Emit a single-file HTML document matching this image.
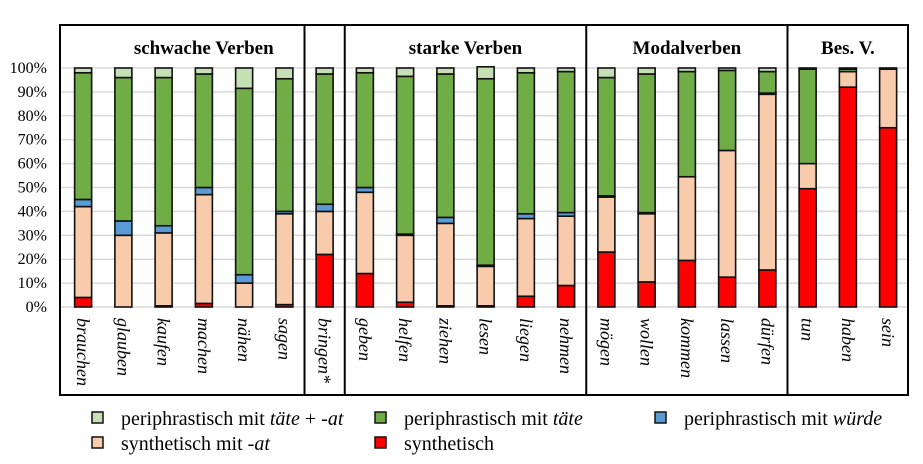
<!DOCTYPE html>
<html><head><meta charset="utf-8"><style>
body{margin:0;background:#fff;width:923px;height:464px;overflow:hidden}
svg{display:block;font-family:"Liberation Serif",serif}
</style></head><body>
<svg id="c" width="923" height="464"></svg>
<script>
const categories=["brauchen","glauben","kaufen","machen","nähen","sagen","bringen*","geben","helfen","ziehen","lesen","liegen","nehmen","mögen","wollen","kommen","lassen","dürfen","tun","haben","sein"];
const synth=[4,0,0.5,1.5,0,1,22,14,2,0.5,0.5,4.5,9,23,10.5,19.5,12.5,15.5,49.5,92,75];
const synthAt=[38,30,30.5,45.5,10,38,18,34,28,34.5,16.5,32.5,29,23,28.5,35,53,73.5,10.5,6.5,24.5];
const wuerde=[3,6,3,3,3.5,1,3,2,0.5,2.5,0.5,2,1.5,0.5,0.5,0,0,0.5,0,0,0];
const taete=[53,60,62,47.5,78,55.5,54.5,48,66,60,78,59,59,49.5,58,44,33.5,9,39.5,1,0];
const taeteAt=[2,4,4,2.5,8.5,4.5,2.5,2,3.5,2.5,5,2,1.5,4,2.5,1.5,1,1.5,0.5,0.5,0.5];
const yTicks=[0,10,20,30,40,50,60,70,80,90,100];
const groups=[{name:"schwache Verben",from:0,to:5},{name:"",from:6,to:6},{name:"starke Verben",from:7,to:12},{name:"Modalverben",from:13,to:17},{name:"Bes. V.",from:18,to:20}];
const series=[synth,synthAt,wuerde,taete,taeteAt];
const colors=["#ff0000","#f8cbad","#5b9bd5","#70ad47","#c5e0b4"];
const sNames=["synthetisch","synthetisch-at","wuerde","taete","taete-at"];
const svg=document.getElementById('c');const NS="http://www.w3.org/2000/svg";
function el(t,a,p){const e=document.createElementNS(NS,t);for(const k in a)e.setAttribute(k,a[k]);(p||svg).appendChild(e);return e;}
const y0=307,y1=68;
function y(v){return y0-(y0-y1)*v/100;}
const x0=63,step=40.25;
function xc(i){return x0+step*(i+0.5);}
const bw=17;
yTicks.forEach(t=>{const g=el('line',{x1:60,x2:908,y1:y(t),y2:y(t),stroke:'#d9d9d9','stroke-width':1.5});

const tx=el('text',{x:47,y:y(t)+5,'text-anchor':'end','font-size':16,fill:'#000'});tx.textContent=t+'%';
});
categories.forEach((c,i)=>{let acc=0;
series.forEach((s,k)=>{const v=s[i];if(v<=0){return;}
const r=el('rect',{x:xc(i)-bw/2,y:y(acc+v),width:bw,height:y(acc)-y(acc+v),fill:colors[k],stroke:'#111','stroke-width':1.6});
acc+=v;});
const t=el('text',{transform:`translate(${xc(i)-6},318) rotate(90)`,'font-size':18,'font-style':'italic',fill:'#000'});t.textContent=c;
});
const fr=el('rect',{x:60,y:25,width:848,height:370,fill:'none',stroke:'#000','stroke-width':2});

groups.forEach((g,gi)=>{if(gi>0){const xl=x0+step*g.from;const l=el('line',{x1:xl,x2:xl,y1:25,y2:395,stroke:'#000','stroke-width':2});
}
if(g.name){const cx=(x0+step*g.from+x0+step*(g.to+1))/2+(gi==0?20:0);const t=el('text',{x:cx,y:54,'text-anchor':'middle','font-size':19,'font-weight':'bold',fill:'#000'});t.textContent=g.name;
}});
const leg=[[92,418,4,'periphrastisch mit <tspan font-style="italic">täte</tspan> + -<tspan font-style="italic">at</tspan>'],[375,418,3,'periphrastisch mit <tspan font-style="italic">täte</tspan>'],[655,418,2,'periphrastisch mit <tspan font-style="italic">würde</tspan>'],[92,443,1,'synthetisch mit -<tspan font-style="italic">at</tspan>'],[375,443,0,'synthetisch']];
leg.forEach(l=>{const g=el('g',{});
el('rect',{x:l[0],y:l[1]-6,width:11,height:11,fill:colors[l[2]],stroke:'#111','stroke-width':1.5},g);
const t=el('text',{x:l[0]+29,y:l[1]+7,'font-size':20,fill:'#000'},g);t.innerHTML=l[3];});
</script>
</body></html>
